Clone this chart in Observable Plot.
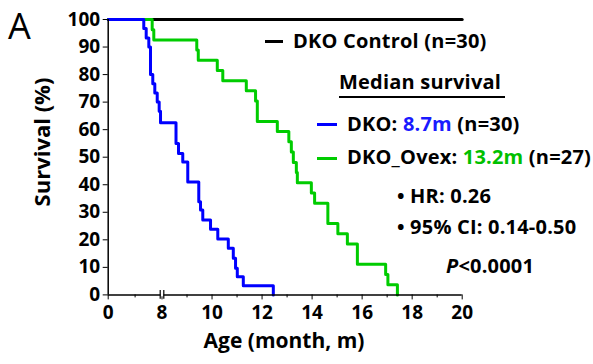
<!DOCTYPE html>
<html><head><meta charset="utf-8">
<script src="https://cdn.jsdelivr.net/npm/d3@7"></script>
<script src="https://cdn.jsdelivr.net/npm/@observablehq/plot@0.6"></script>
<style>
body{margin:0;background:#fff;}
#wrap{position:relative;width:593px;height:364px;font-family:"Open Sans",sans-serif;font-weight:700;color:#000;}
.t{position:absolute;white-space:nowrap;line-height:1;transform:translateY(-50%);font-size:20px;letter-spacing:0.2px;}
.dash{position:absolute;height:3px;}
#wrap svg{position:absolute;left:0;top:0;}
</style></head><body><div id="wrap"></div>
<script>
// Kaplan-Meier step data (time in months, survival %)
const controlMonths = [0, 20];
const controlSurvival = [100, 100];
const dkoMonths = [5.29,5.65,6.04,6.29,6.63,6.93,7.29,7.58,7.78,8.56,8.66,8.83,9.03,9.47,9.54,9.63,9.94,10.23,10.65,10.85,10.94,11.01,11.25,12.45];
const dkoSurvival = [96.7,93.3,90,80,76.7,73.3,70,66.7,62.5,55,51.3,48.3,41,33.8,30.8,27.2,23.8,20.3,16.9,13.3,9.7,6.6,3.3,0];
const ovexMonths = [6.54,6.78,9.39,9.45,10.21,10.43,11.37,11.74,11.81,12.61,13.07,13.17,13.25,13.37,13.41,13.97,14.10,14.63,15.03,15.41,15.81,16.94,17.03,17.41];
const ovexSurvival = [96.3,92.6,88.9,85.2,81.5,77.8,74.1,70.4,63.0,59.3,55.6,51.9,48.1,44.4,40.7,37.0,33.3,25.9,22.2,18.5,11.1,7.4,3.7,0];
const yTicks = [0,10,20,30,40,50,60,70,80,90,100];
const xMajorTicks = [0,8,10,12,14,16,18,20];
const xMinorTicks = [4,9,11,13,15,17,19];
const xBreak = [8];

function steps(months, surv){
  const pts = [];
  if (months[0] !== 0) pts.push({t:0, s:100});
  months.forEach((m,i)=>pts.push({t:m, s:surv[i]}));
  return pts;
}
const controlPts = controlMonths.map((m,i)=>({t:m, s:controlSurvival[i]}));
const dkoPts = steps(dkoMonths, dkoSurvival);
const ovexPts = steps(ovexMonths, ovexSurvival);

const chart = Plot.plot({
  width: 593, height: 364,
  marginLeft: 107.7, marginRight: 131.3, marginTop: 19, marginBottom: 69.6,
  x: {type:"linear", domain:[0,8,20], range:[107.7,161.5,461.7]},
  y: {domain:[0,100], range:[294.4,19]},
  style: {fontFamily:"Open Sans", fontWeight:700, fontSize:"19px", background:"transparent", color:"#000"},
  marks: [
    Plot.line(controlPts, {x:"t", y:"s", curve:"step-after", stroke:"#000", strokeWidth:3}),
    Plot.line(ovexPts, {x:"t", y:"s", curve:"step-after", stroke:"#00cc00", strokeWidth:3}),
    Plot.line(dkoPts, {x:"t", y:"s", curve:"step-after", stroke:"#0000ff", strokeWidth:3}),
    Plot.ruleY([0], {x1:0, x2:20, stroke:"#000", strokeWidth:1.5}),
    Plot.ruleX([0], {y1:0, y2:100, stroke:"#000", strokeWidth:1.5}),
    Plot.axisY({ticks:yTicks, tickSize:5, tickPadding:3, label:null, fontSize:19, tickFormat:d=>d}),
    Plot.axisX({ticks:xMajorTicks, tickSize:5, tickPadding:6, label:null, fontSize:19, tickFormat:d=>d}),
    Plot.axisX({ticks:xMinorTicks, tickSize:3, tickFormat:()=>"", label:null}),
    Plot.ruleX(xBreak, {y1:-0.7, y2:0.7, stroke:"#fff", strokeWidth:3}),
    Plot.ruleX(xBreak, {y1:-1.6, y2:1.6, dx:-1.8, stroke:"#000", strokeWidth:1.2}),
    Plot.ruleX(xBreak, {y1:-1.6, y2:1.6, dx:1.8, stroke:"#000", strokeWidth:1.2})
  ]
});
const wrap = document.getElementById("wrap");
wrap.appendChild(chart);

function addText(html, left, top, size, extra){
  const d = document.createElement("div");
  d.className = "t";
  d.innerHTML = html;
  d.style.left = left + "px";
  d.style.top = top + "px";
  if (size) d.style.fontSize = size + "px";
  if (extra) Object.assign(d.style, extra);
  wrap.appendChild(d);
  return d;
}
function addDash(left, top, width, color, h){
  const d = document.createElement("div");
  d.className = "dash";
  d.style.left = left+"px"; d.style.top = (top - (h||3)/2)+"px";
  d.style.width = width+"px"; d.style.background = color;
  if (h) d.style.height = h+"px";
  wrap.appendChild(d);
}
addText("A", 8, 26, 36, {fontWeight:400, letterSpacing:"0"});
addText("Survival (%)", 41, 142, 22, {transform:"translate(-50%,-50%) rotate(-90deg)", letterSpacing:"0"});
addText("Age (month, m)", 284, 340, 21, {transform:"translate(-50%,-50%)", letterSpacing:"0"});

addDash(265, 41, 18, "#000");
addText("DKO Control (n=30)", 293, 41);
addText("Median survival", 339, 82);
addDash(339, 97, 166, "#000", 1.5);
addDash(317, 124.5, 20, "#0000ff");
addText('DKO: <span style="color:#1a1aff">8.7m</span> (n=30)', 347, 124);
addDash(317, 158, 20, "#00cc00");
addText('DKO_Ovex: <span style="color:#00c000">13.2m</span> (n=27)', 347, 157);
addText("• HR: 0.26", 397, 196);
addText("• 95% CI: 0.14-0.50", 397, 227);
addText("<i>P</i>&lt;0.0001", 446, 266);
</script>
</body></html>
